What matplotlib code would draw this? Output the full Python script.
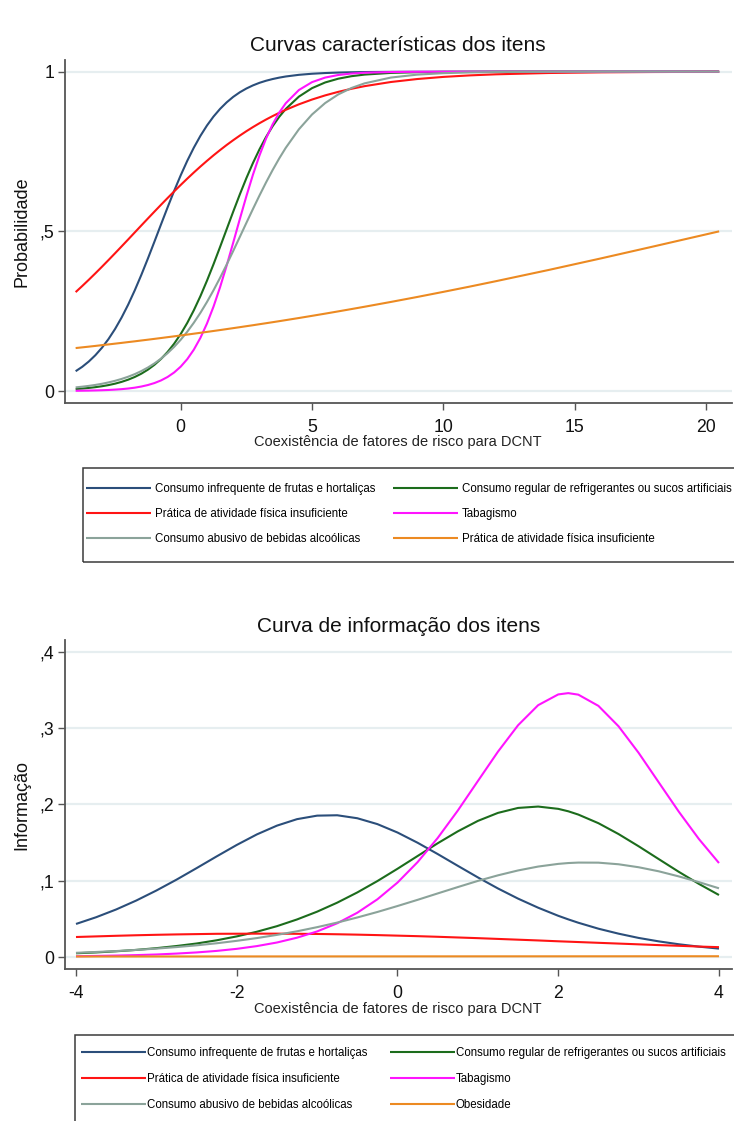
#!/usr/bin/env python3
# -*- coding: utf-8 -*-
"""
Curvas características e curva de informação dos itens (TRI, 2PL)
Two stacked panels, Stata-like look, saved to out.png.
"""

import matplotlib
matplotlib.use("Agg")
import matplotlib.pyplot as plt
from matplotlib.patches import Rectangle

# ==============================================================================
# SECTION 1: DATA
# ==============================================================================
ITEMS_TOP = [
    "Consumo infrequente de frutas e hortaliças",
    "Consumo regular de refrigerantes ou sucos artificiais",
    "Prática de atividade física insuficiente",
    "Tabagismo",
    "Consumo abusivo de bebidas alcoólicas",
    "Prática de atividade física insuficiente",
]
ITEMS_BOTTOM = [
    "Consumo infrequente de frutas e hortaliças",
    "Consumo regular de refrigerantes ou sucos artificiais",
    "Prática de atividade física insuficiente",
    "Tabagismo",
    "Consumo abusivo de bebidas alcoólicas",
    "Obesidade",
]

# ---- item characteristic curves (probabilidade) ----
theta_icc = [-4, -3.75, -3.5, -3.25, -3, -2.75, -2.5, -2.25, -2, -1.75, -1.5, -1.25,
             -1, -0.75, -0.5, -0.25, 0, 0.25, 0.5, 0.75, 1, 1.25, 1.5, 1.75,
             2, 2.25, 2.5, 2.75, 3, 3.25, 3.5, 3.75, 4,
             4.5, 5, 5.5, 6, 6.5, 7, 8, 9, 10, 11, 12, 14, 16, 18, 20, 20.5]

icc_frutas = [0.0620, 0.0757, 0.0923, 0.1120, 0.1353, 0.1626, 0.1941, 0.2301, 0.2705,
              0.3151, 0.3634, 0.4146, 0.4677, 0.5216, 0.5749, 0.6266, 0.6755, 0.7209,
              0.7621, 0.7990, 0.8315, 0.8596, 0.8836, 0.9040, 0.9212, 0.9355, 0.9473,
              0.9571, 0.9652, 0.9717, 0.9770, 0.9814, 0.9850,
              0.9902, 0.9936, 0.9958, 0.9973, 0.9982, 0.9989, 0.9995, 0.9998, 0.9999,
              0.9999, 1.0, 1.0, 1.0, 1.0, 1.0, 1.0]
icc_refri = [0.0062, 0.0077, 0.0096, 0.0120, 0.0149, 0.0185, 0.0230, 0.0286, 0.0355,
             0.0439, 0.0542, 0.0668, 0.0820, 0.1003, 0.1222, 0.1481, 0.1784, 0.2133,
             0.2529, 0.2970, 0.3454, 0.3971, 0.4513, 0.5066, 0.5618, 0.6155, 0.6665,
             0.7139, 0.7570, 0.7955, 0.8293, 0.8585, 0.8834,
             0.9219, 0.9485, 0.9663, 0.9781, 0.9859, 0.9909, 0.9962, 0.9984, 0.9994,
             0.9997, 0.9999, 1.0, 1.0, 1.0, 1.0, 1.0]
icc_ativ = [0.3097, 0.3287, 0.3483, 0.3684, 0.3890, 0.4100, 0.4313, 0.4529, 0.4746,
            0.4965, 0.5184, 0.5402, 0.5618, 0.5832, 0.6043, 0.6250, 0.6453, 0.6651,
            0.6843, 0.7029, 0.7208, 0.7381, 0.7546, 0.7705, 0.7855, 0.7999, 0.8136,
            0.8265, 0.8387, 0.8502, 0.8610, 0.8712, 0.8806,
            0.8978, 0.9128, 0.9258, 0.9369, 0.9465, 0.9547, 0.9677, 0.9770, 0.9837,
            0.9884, 0.9918, 0.9959, 0.9980, 0.9990, 0.9995, 0.9996]
icc_tabaco = [0.0007, 0.0010, 0.0013, 0.0018, 0.0024, 0.0032, 0.0044, 0.0058, 0.0078,
              0.0104, 0.0140, 0.0187, 0.0249, 0.0331, 0.0439, 0.0580, 0.0763, 0.0998,
              0.1295, 0.1664, 0.2113, 0.2644, 0.3254, 0.3929, 0.4648, 0.5382, 0.6099,
              0.6772, 0.7378, 0.7907, 0.8352, 0.8718, 0.9012,
              0.9426, 0.9673, 0.9816, 0.9897, 0.9942, 0.9968, 0.9990, 0.9997, 0.9999,
              1.0, 1.0, 1.0, 1.0, 1.0, 1.0, 1.0]
icc_alcool = [0.0113, 0.0135, 0.0160, 0.0190, 0.0226, 0.0269, 0.0319, 0.0378, 0.0447,
              0.0528, 0.0624, 0.0735, 0.0864, 0.1013, 0.1185, 0.1382, 0.1605, 0.1857,
              0.2138, 0.2448, 0.2788, 0.3155, 0.3547, 0.3959, 0.4387, 0.4824, 0.5264,
              0.5699, 0.6124, 0.6533, 0.6920, 0.7282, 0.7616,
              0.8196, 0.8660, 0.9018, 0.9289, 0.9489, 0.9635, 0.9816, 0.9908, 0.9954,
              0.9977, 0.9989, 0.9997, 0.9999, 1.0, 1.0, 1.0]
icc_obes = [0.1345, 0.1367, 0.1389, 0.1412, 0.1436, 0.1459, 0.1483, 0.1507, 0.1532,
            0.1556, 0.1582, 0.1607, 0.1633, 0.1659, 0.1686, 0.1712, 0.1739, 0.1767,
            0.1795, 0.1823, 0.1851, 0.1880, 0.1909, 0.1939, 0.1969, 0.1999, 0.2030,
            0.2060, 0.2092, 0.2123, 0.2155, 0.2187, 0.2220,
            0.2286, 0.2354, 0.2423, 0.2494, 0.2566, 0.2639, 0.2789, 0.2944, 0.3105,
            0.3269, 0.3439, 0.3789, 0.4153, 0.4527, 0.4905, 0.5000]

# ---- item information curves (informação) ----
theta_info = [-4, -3.75, -3.5, -3.25, -3, -2.75, -2.5, -2.25, -2, -1.75, -1.5, -1.25,
              -1, -0.75, -0.5, -0.25, 0, 0.25, 0.5, 0.75, 1, 1.25, 1.5, 1.75,
              2, 2.125, 2.25, 2.5, 2.75, 3, 3.25, 3.5, 3.75, 4]

info_frutas = [0.0433, 0.0521, 0.0623, 0.0740, 0.0871, 0.1013, 0.1164, 0.1318, 0.1468,
               0.1606, 0.1721, 0.1806, 0.1852, 0.1857, 0.1818, 0.1741, 0.1631, 0.1497,
               0.1349, 0.1195, 0.1043, 0.0898, 0.0765, 0.0646, 0.0540, 0.0493, 0.0449,
               0.0371, 0.0306, 0.0250, 0.0205, 0.0167, 0.0136, 0.0110]
info_refri = [0.0049, 0.0060, 0.0075, 0.0093, 0.0116, 0.0144, 0.0177, 0.0219, 0.0270,
              0.0331, 0.0404, 0.0492, 0.0594, 0.0712, 0.0846, 0.0995, 0.1156, 0.1323,
              0.1490, 0.1646, 0.1783, 0.1888, 0.1953, 0.1971, 0.1941, 0.1909, 0.1866,
              0.1753, 0.1611, 0.1451, 0.1283, 0.1116, 0.0958, 0.0812]
info_ativ = [0.0262, 0.0270, 0.0278, 0.0285, 0.0291, 0.0296, 0.0300, 0.0304, 0.0305,
             0.0306, 0.0306, 0.0304, 0.0302, 0.0298, 0.0293, 0.0287, 0.0280, 0.0273,
             0.0265, 0.0256, 0.0247, 0.0237, 0.0227, 0.0217, 0.0206, 0.0201, 0.0196,
             0.0186, 0.0176, 0.0166, 0.0156, 0.0147, 0.0137, 0.0129]
info_tabaco = [0.0010, 0.0014, 0.0019, 0.0025, 0.0033, 0.0045, 0.0060, 0.0080, 0.0107,
               0.0143, 0.0190, 0.0253, 0.0335, 0.0442, 0.0580, 0.0756, 0.0975, 0.1243,
               0.1559, 0.1918, 0.2305, 0.2690, 0.3036, 0.3299, 0.3440, 0.3457, 0.3437,
               0.3290, 0.3023, 0.2675, 0.2289, 0.1904, 0.1546, 0.1231]
info_alcool = [0.0055, 0.0066, 0.0078, 0.0093, 0.0110, 0.0130, 0.0153, 0.0180, 0.0212,
               0.0248, 0.0290, 0.0337, 0.0391, 0.0451, 0.0518, 0.0590, 0.0668, 0.0749,
               0.0833, 0.0916, 0.0997, 0.1070, 0.1134, 0.1185, 0.1220, 0.1231, 0.1237,
               0.1236, 0.1215, 0.1176, 0.1123, 0.1056, 0.0981, 0.0900]
info_obes = [0.00067, 0.00068, 0.00069, 0.00070, 0.00071, 0.00072, 0.00073, 0.00074,
             0.00075, 0.00076, 0.00077, 0.00078, 0.00079, 0.00080, 0.00081, 0.00082,
             0.00083, 0.00084, 0.00085, 0.00086, 0.00087, 0.00088, 0.00089, 0.00090,
             0.00091, 0.00092, 0.00092, 0.00093, 0.00094, 0.00096, 0.00097, 0.00098,
             0.00099, 0.00100]

xticks_top = [0, 5, 10, 15, 20]
yticks_top = [0, 0.5, 1]
yticklabels_top = ["0", ",5", "1"]
xticks_bottom = [-4, -2, 0, 2, 4]
xticklabels_bottom = ["-4", "-2", "0", "2", "4"]
yticks_bottom = [0, 0.1, 0.2, 0.3, 0.4]
yticklabels_bottom = ["0", ",1", ",2", ",3", ",4"]

# ==============================================================================
# SECTION 2: STYLE
# ==============================================================================
COLORS = ["#2b4e7a", "#1c6c1c", "#ff1414", "#ff14ff", "#8ba39a", "#ec8a22"]
SPINE = "#555555"
GRID = "#e6eef0"
LW = 1.5
W, H = 734, 1121

plt.rcParams["font.family"] = ["Liberation Sans", "DejaVu Sans"]


def style_axes(ax, xlim, ylim, xticks, xlabels, yticks, ylabels):
    ax.set_xlim(*xlim)
    ax.set_ylim(*ylim)
    for side in ("top", "right"):
        ax.spines[side].set_visible(False)
    for side in ("left", "bottom"):
        ax.spines[side].set_color(SPINE)
        ax.spines[side].set_linewidth(1.3)
    ax.set_xticks(xticks)
    ax.set_xticklabels(xlabels)
    ax.set_yticks(yticks)
    ax.set_yticklabels(ylabels)
    ax.tick_params(axis="both", length=5, width=1.0, color=SPINE,
                   labelsize=12.7, labelcolor="#111111")
    ax.tick_params(axis="x", pad=6.6)
    ax.tick_params(axis="y", pad=2.4)
    ax.yaxis.grid(True, color=GRID, linewidth=1.6)
    ax.xaxis.grid(False)
    ax.set_axisbelow(True)


def add_legend(fig, lines, labels, x_px, y_px, colsp, textpad, lsp):
    # matplotlib fills columns first: reorder so rows read like the original
    order = [0, 2, 4, 1, 3, 5]
    fig.legend([lines[i] for i in order], [labels[i] for i in order],
               loc="upper left", bbox_to_anchor=(x_px / W, 1 - y_px / H),
               bbox_transform=fig.transFigure, ncol=2, frameon=False,
               borderpad=0, borderaxespad=0, fontsize=8.3, handlelength=5.65,
               handletextpad=textpad, columnspacing=colsp, labelspacing=lsp)


def frame_box(fig, x0, y0, x1, y1):
    fig.add_artist(Rectangle((x0 / W, 1 - y1 / H), (x1 - x0) / W, (y1 - y0) / H,
                             transform=fig.transFigure, fill=False,
                             edgecolor="#3a3a3a", linewidth=1.1, clip_on=False))


# ==============================================================================
# SECTION 3: FIGURE
# ==============================================================================
fig = plt.figure(figsize=(W / 100, H / 100), dpi=100)
fig.patch.set_facecolor("white")

# ---- top panel ----
ax1 = fig.add_axes([64.5 / W, 1 - 403.3 / H, (732 - 64.5) / W, (403.3 - 59.5) / H])
icc = [icc_frutas, icc_refri, icc_ativ, icc_tabaco, icc_alcool, icc_obes]
lines_top = []
for ys, c in zip(icc, COLORS):
    ln, = ax1.plot(theta_icc, ys, color=c, linewidth=LW, solid_capstyle="butt")
    lines_top.append(ln)
style_axes(ax1, (-4.424, 20.99), (-0.0385, 1.0382),
           xticks_top, [str(t) for t in xticks_top], yticks_top, yticklabels_top)
ax1.set_title("Curvas características dos itens", fontsize=15, pad=5.9, color="#111111")
ax1.set_xlabel("Coexistência de fatores de risco para DCNT", fontsize=10.5, color="#222222")
ax1.xaxis.set_label_coords(0.5, -0.093)
ax1.set_ylabel("Probabilidade", fontsize=13, color="#111111")
ax1.yaxis.set_label_coords(-0.0506, 0.5)

frame_box(fig, 83, 468, 745, 562)
add_legend(fig, lines_top, ITEMS_TOP, 86, 482.7, 1.48, 0.35, 1.15)

# ---- bottom panel ----
ax2 = fig.add_axes([64.5 / W, 1 - 969.3 / H, (732 - 64.5) / W, (969.3 - 640) / H])
info = [info_frutas, info_refri, info_ativ, info_tabaco, info_alcool, info_obes]
lines_bot = []
for ys, c in zip(info, COLORS):
    ln, = ax2.plot(theta_info, ys, color=c, linewidth=LW, solid_capstyle="butt")
    lines_bot.append(ln)
style_axes(ax2, (-4.143, 4.162), (-0.0161, 0.4153),
           xticks_bottom, xticklabels_bottom, yticks_bottom, yticklabels_bottom)
ax2.set_title("Curva de informação dos itens", fontsize=15, pad=6.0, color="#111111")
ax2.set_xlabel("Coexistência de fatores de risco para DCNT", fontsize=10.5, color="#222222")
ax2.xaxis.set_label_coords(0.5, -0.098)
ax2.set_ylabel("Informação", fontsize=13, color="#111111")
ax2.yaxis.set_label_coords(-0.0506, 0.5)

frame_box(fig, 75, 1035, 745, 1130)
add_legend(fig, lines_bot, ITEMS_BOTTOM, 81, 1047.4, 1.9, 0.1, 1.2)

fig.savefig("out.png", dpi=100, facecolor="white")
print("saved out.png")
